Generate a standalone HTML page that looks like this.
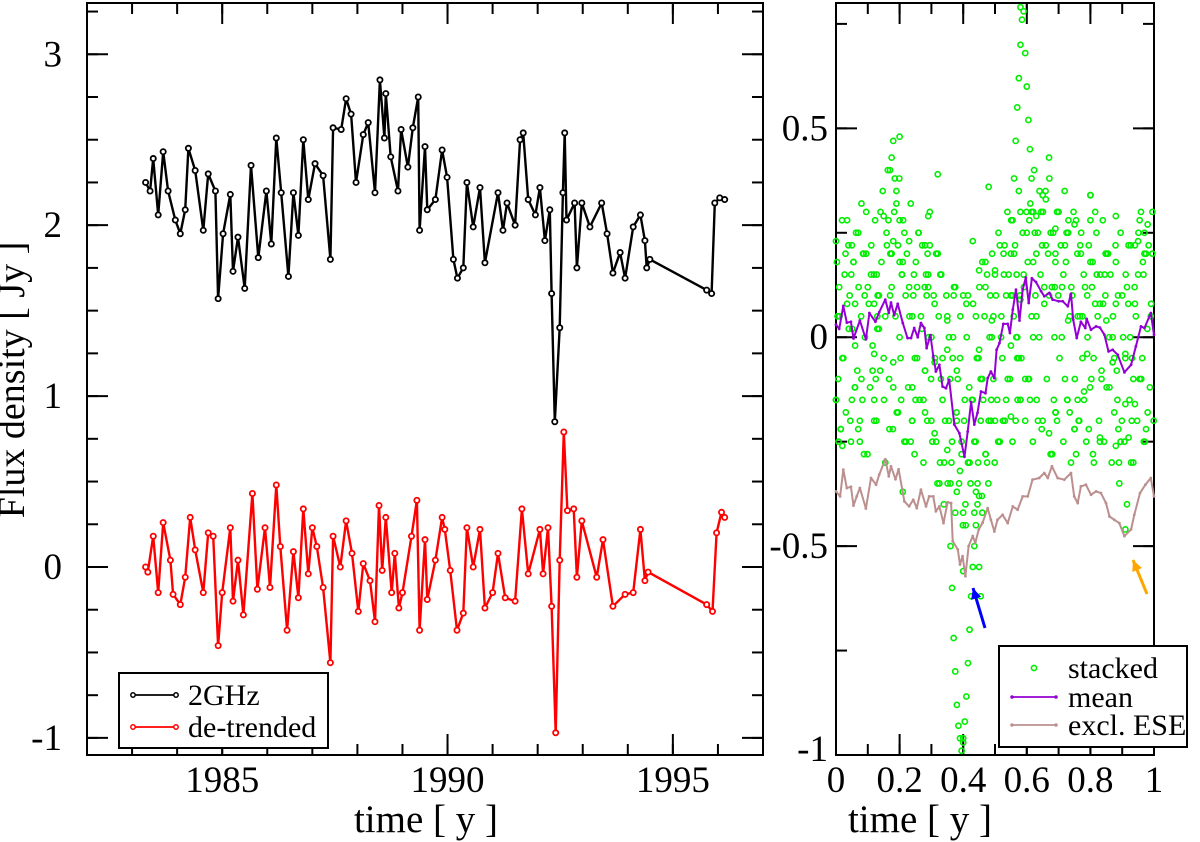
<!DOCTYPE html>
<html><head><meta charset="utf-8"><style>
html,body{margin:0;padding:0;background:#fff}
svg{display:block;font-family:"Liberation Serif","Times New Roman",serif}
</style></head><body>
<svg id="c" width="1200" height="842" viewBox="0 0 1200 842" xmlns="http://www.w3.org/2000/svg"></svg>
<script>
// ---- left panel data ----
const t2ghz=[1983.3,1983.4,1983.47,1983.58,1983.69,1983.8,1983.96,1984.07,1984.18,1984.25,1984.4,1984.58,1984.69,1984.85,1984.91,1985.02,1985.18,1985.24,1985.35,1985.5,1985.64,1985.8,1985.98,1986.09,1986.2,1986.31,1986.47,1986.58,1986.69,1986.8,1986.91,1987.06,1987.24,1987.4,1987.46,1987.64,1987.75,1987.86,1987.97,1988.13,1988.24,1988.39,1988.5,1988.6,1988.63,1988.74,1988.9,1988.97,1989.12,1989.23,1989.35,1989.38,1989.5,1989.55,1989.73,1989.88,1989.99,1990.13,1990.22,1990.35,1990.43,1990.57,1990.72,1990.83,1991.12,1991.23,1991.32,1991.5,1991.61,1991.68,1991.79,1991.95,1992.05,1992.16,1992.27,1992.31,1992.38,1992.49,1992.56,1992.6,1992.64,1992.82,1992.87,1992.98,1993.16,1993.42,1993.54,1993.67,1993.83,1993.94,1994.12,1994.28,1994.38,1994.42,1994.49,1995.75,1995.86,1995.93,1996.04,1996.15];
const v2ghz=[2.25,2.2,2.39,2.06,2.43,2.2,2.03,1.95,2.09,2.45,2.32,1.97,2.3,2.2,1.57,1.95,2.18,1.73,1.93,1.63,2.35,1.81,2.2,1.89,2.51,2.19,1.7,2.19,1.94,2.5,2.15,2.36,2.29,1.8,2.57,2.56,2.74,2.65,2.25,2.53,2.6,2.19,2.85,2.51,2.77,2.4,2.2,2.56,2.34,2.57,2.75,1.97,2.46,2.09,2.15,2.44,2.28,1.8,1.69,1.75,2.25,1.99,2.22,1.78,2.19,1.97,2.13,2.0,2.5,2.54,2.15,2.06,2.22,1.91,2.09,1.6,0.85,1.4,2.19,2.54,2.03,2.13,1.75,2.13,1.99,2.13,1.95,1.72,1.84,1.69,1.99,2.06,1.91,1.75,1.8,1.62,1.6,2.13,2.16,2.15];
const tDet=[1983.3,1983.35,1983.47,1983.58,1983.69,1983.85,1983.91,1984.07,1984.18,1984.29,1984.4,1984.58,1984.69,1984.8,1984.91,1985.0,1985.18,1985.24,1985.35,1985.47,1985.67,1985.78,1985.95,1986.06,1986.2,1986.29,1986.44,1986.58,1986.69,1986.8,1986.91,1987.0,1987.1,1987.24,1987.4,1987.46,1987.62,1987.75,1987.88,1988.02,1988.13,1988.28,1988.39,1988.48,1988.55,1988.63,1988.76,1988.83,1988.92,1989.0,1989.2,1989.32,1989.38,1989.5,1989.55,1989.73,1989.88,1989.94,1990.06,1990.21,1990.35,1990.43,1990.57,1990.72,1990.83,1991.0,1991.12,1991.28,1991.5,1991.65,1991.79,1992.05,1992.12,1992.23,1992.31,1992.4,1992.49,1992.58,1992.66,1992.8,1992.87,1992.98,1993.31,1993.45,1993.67,1993.94,1994.12,1994.28,1994.38,1994.45,1995.75,1995.88,1995.97,1996.08,1996.15];
const vDet=[0.0,-0.03,0.18,-0.15,0.26,0.04,-0.16,-0.22,-0.06,0.29,0.1,-0.15,0.2,0.18,-0.46,-0.15,0.23,-0.2,0.04,-0.28,0.43,-0.13,0.23,-0.12,0.48,0.12,-0.37,0.09,-0.18,0.34,-0.04,0.23,0.12,-0.12,-0.56,0.18,0.0,0.27,0.08,-0.26,0.02,-0.08,-0.32,0.36,-0.02,0.29,-0.15,0.08,-0.24,-0.15,0.18,0.39,-0.37,0.16,-0.19,0.04,0.29,0.22,-0.02,-0.37,-0.27,0.23,0.0,0.22,-0.24,-0.15,0.08,-0.18,-0.2,0.34,-0.04,0.22,-0.04,0.23,-0.23,-0.97,0.04,0.79,0.33,0.34,-0.06,0.27,-0.06,0.16,-0.23,-0.16,-0.15,0.22,-0.08,-0.03,-0.22,-0.26,0.2,0.32,0.29];
const leftXTicks=[1985,1990,1995];
const leftYTicks=[-1,0,1,2,3];
// ---- right panel data ----
const phMean=[0,0.01,0.023,0.034,0.047,0.055,0.075,0.094,0.105,0.124,0.136,0.155,0.166,0.173,0.183,0.194,0.21,0.225,0.236,0.246,0.257,0.267,0.278,0.285,0.297,0.306,0.314,0.325,0.335,0.346,0.356,0.372,0.388,0.404,0.414,0.425,0.435,0.445,0.456,0.47,0.477,0.487,0.498,0.505,0.514,0.526,0.54,0.547,0.556,0.566,0.577,0.587,0.597,0.606,0.616,0.629,0.645,0.655,0.671,0.681,0.7,0.713,0.729,0.739,0.746,0.757,0.77,0.784,0.788,0.802,0.818,0.83,0.844,0.857,0.87,0.886,0.907,0.928,0.943,0.959,0.97,0.99,1.0];
const vMean=[0.03,0.02,0.075,0.035,0.037,-0.003,0.04,-0.005,0.058,0.037,0.06,0.09,0.058,0.083,0.053,0.08,0.034,-0.002,-0.002,0.022,0,0.034,0.022,-0.026,0.005,-0.046,-0.082,-0.066,-0.118,-0.122,-0.102,-0.209,-0.23,-0.286,-0.226,-0.155,-0.209,-0.181,-0.13,-0.134,-0.098,-0.082,-0.098,-0.03,-0.014,0.032,0.032,0.01,0.066,0.114,0.04,0.114,0.143,0.082,0.141,0.132,0.11,0.098,0.106,0.09,0.086,0.086,0.074,0.104,0.042,-0.002,0.037,0.022,0.044,0.018,0.026,0.023,0.006,-0.034,-0.03,-0.042,-0.084,-0.066,-0.022,0.026,0.022,0.058,0.006];
const phEse=[0,0.013,0.023,0.034,0.047,0.055,0.065,0.075,0.094,0.11,0.126,0.136,0.155,0.166,0.173,0.187,0.197,0.215,0.23,0.243,0.254,0.267,0.283,0.293,0.306,0.314,0.325,0.338,0.351,0.362,0.367,0.383,0.39,0.398,0.407,0.417,0.43,0.438,0.449,0.461,0.477,0.487,0.498,0.508,0.524,0.54,0.556,0.571,0.587,0.603,0.618,0.639,0.655,0.666,0.679,0.697,0.718,0.739,0.749,0.76,0.77,0.786,0.802,0.818,0.833,0.849,0.86,0.875,0.891,0.907,0.928,0.938,0.956,0.973,0.99,1.0];
const vEse=[-0.369,-0.381,-0.317,-0.361,-0.358,-0.403,-0.381,-0.361,-0.41,-0.337,-0.353,-0.329,-0.292,-0.333,-0.309,-0.34,-0.316,-0.393,-0.405,-0.389,-0.409,-0.365,-0.405,-0.381,-0.381,-0.417,-0.405,-0.445,-0.395,-0.397,-0.488,-0.508,-0.544,-0.524,-0.572,-0.5,-0.476,-0.492,-0.46,-0.444,-0.409,-0.437,-0.465,-0.437,-0.425,-0.445,-0.405,-0.413,-0.381,-0.381,-0.341,-0.337,-0.325,-0.337,-0.309,-0.337,-0.341,-0.325,-0.381,-0.397,-0.357,-0.353,-0.377,-0.369,-0.373,-0.397,-0.429,-0.437,-0.445,-0.476,-0.46,-0.425,-0.373,-0.353,-0.337,-0.381];
const phStack=[0.01,0.02,0.03,0.04,0.05,0.06,0.07,0.08,0.09,0.11,0.12,0.13,0.14,0.15,0.16,0.17,0.18,0.19,0.2,0.21,0.22,0.23,0.24,0.25,0.26,0.27,0.28,0.29,0.3,0.31,0.32,0.33,0.34,0.35,0.36,0.37,0.38,0.39,0.4,0.41,0.42,0.43,0.44,0.45,0.46,0.47,0.48,0.49,0.5,0.51,0.52,0.53,0.54,0.55,0.56,0.57,0.58,0.59,0.6,0.61,0.62,0.63,0.64,0.65,0.66,0.67,0.68,0.69,0.7,0.71,0.72,0.73,0.74,0.75,0.76,0.77,0.78,0.79,0.8,0.81,0.82,0.83,0.84,0.85,0.86,0.87,0.88,0.89,0.9,0.91,0.92,0.93,0.94,0.95,0.96,0.97,0.98,0.99,
0.015,0.035,0.055,0.075,0.095,0.115,0.135,0.155,0.175,0.195,0.215,0.235,0.255,0.275,0.295,0.315,0.335,0.355,0.375,0.395,0.415,0.435,0.455,0.475,0.495,0.515,0.535,0.555,0.575,0.595,0.615,0.635,0.655,0.675,0.695,0.715,0.735,0.755,0.775,0.795,0.815,0.835,0.855,0.875,0.895,0.915,0.935,0.955,0.975,0.995,
0.005,0.045,0.085,0.125,0.165,0.205,0.245,0.285,0.325,0.365,0.405,0.445,0.485,0.525,0.565,0.605,0.645,0.685,0.725,0.765,0.805,0.845,0.885,0.925,0.965,
0.008,0.048,0.088,0.128,0.168,0.208,0.248,0.288,0.328,0.368,0.408,0.448,0.488,0.528,0.568,0.608,0.648,0.688,0.728,0.768,0.808,0.848,0.888,0.928,0.968,
0.36,0.365,0.37,0.375,0.38,0.385,0.39,0.395,0.4,0.405,0.41,0.415,0.42,0.425,0.43,0.435,0.44,0.445,0.45,0.455,0.46,
0.55,0.555,0.56,0.565,0.57,0.575,0.58,0.585,0.59,0.595,0.6,0.605,0.61,0.615,0.62,0.625,0.63,0.17,0.175,0.18,0.185,0.19,0.2];
const vStack=[0.12,-0.05,0.2,0.02,-0.15,0.08,0.25,-0.1,0.1,0.15,-0.2,0.05,0.3,-0.05,0.22,0.1,-0.12,0.35,0.0,0.18,-0.25,0.12,0.05,-0.15,0.25,0.02,-0.08,0.15,-0.2,0.08,0.2,-0.1,-0.3,0.05,-0.35,0.1,-0.2,-0.05,-0.42,0.08,-0.3,-0.15,0.05,-0.38,-0.1,0.12,-0.2,0.0,0.15,-0.25,0.05,0.22,-0.1,0.1,0.2,-0.05,0.3,0.15,0.25,-0.15,0.18,0.05,0.35,-0.2,0.22,0.1,-0.28,0.18,0.3,0.0,-0.1,0.25,0.12,-0.22,0.05,0.2,-0.15,0.1,0.28,-0.05,0.15,-0.25,0.08,0.2,-0.12,0.0,0.18,-0.3,0.1,-0.05,0.22,-0.2,0.08,0.15,-0.1,0.25,-0.18,0.05,
-0.22,0.28,0.18,-0.25,0.2,-0.08,0.1,-0.3,0.2,-0.18,0.25,-0.25,0.12,-0.15,0.22,-0.25,-0.05,-0.2,0.12,-0.28,0.1,-0.25,-0.1,-0.3,0.05,0.22,-0.15,0.1,-0.05,-0.1,0.3,-0.2,0.12,0.25,-0.2,0.15,-0.18,0.28,0.05,-0.22,0.3,-0.1,0.2,-0.05,-0.25,0.12,-0.1,0.28,-0.22,0.2,
0.05,-0.2,0.2,-0.1,0.28,-0.15,0.15,0.1,-0.35,-0.25,-0.15,-0.35,0.1,-0.2,-0.2,-0.1,0.3,-0.15,0.25,-0.2,0.12,0.15,-0.15,0.0,0.18,
-0.25,0.15,-0.28,0.15,-0.22,0.15,-0.05,0.2,0.15,0.0,-0.45,-0.05,-0.15,0.15,0.15,0.28,0.22,0.12,-0.15,0.22,-0.28,0.2,-0.22,-0.3,-0.25,
-0.5,-0.6,-0.72,-0.8,-0.88,-0.93,-0.96,-0.99,-0.96,-0.92,-0.86,-0.78,-0.7,-0.62,-0.55,-0.5,-0.45,-0.4,-0.55,-0.62,-0.42,
0.2,0.28,0.38,0.47,0.55,0.62,0.7,0.76,0.78,0.68,0.6,0.52,0.45,0.38,0.3,0.25,0.2,0.4,0.43,0.47,0.38,0.32,0.28];
const phStack2=[0.003,0.007,0.011,0.015,0.019,0.023,0.027,0.031,0.035,0.039,0.043,0.047,0.051,0.055,0.059,0.063,0.067,0.071,0.075,0.079,0.083,0.087,0.091,0.095,0.099,
0.103,0.107,0.111,0.115,0.119,0.123,0.127,0.131,0.135,0.139,0.143,0.147,0.151,0.155,0.159,0.163,0.167,0.171,0.175,0.179,0.183,0.187,0.191,0.195,0.199,
0.203,0.207,0.211,0.215,0.219,0.223,0.227,0.231,0.235,0.239,0.243,0.247,0.251,0.255,0.259,0.263,0.267,0.271,0.275,0.279,0.283,0.287,0.291,0.295,0.299,
0.303,0.307,0.311,0.315,0.319,0.323,0.327,0.331,0.335,0.339,0.343,0.347,0.351,0.355,0.359,0.363,0.367,0.371,0.375,0.379,0.383,0.387,0.391,0.395,0.399,
0.403,0.407,0.411,0.415,0.419,0.423,0.427,0.431,0.435,0.439,0.443,0.447,0.451,0.455,0.459,0.463,0.467,0.471,0.475,0.479,0.483,0.487,0.491,0.495,0.499,
0.503,0.507,0.511,0.515,0.519,0.523,0.527,0.531,0.535,0.539,0.543,0.547,0.551,0.555,0.559,0.563,0.567,0.571,0.575,0.579,0.583,0.587,0.591,0.595,0.599,
0.603,0.607,0.611,0.615,0.619,0.623,0.627,0.631,0.635,0.639,0.643,0.647,0.651,0.655,0.659,0.663,0.667,0.671,0.675,0.679,0.683,0.687,0.691,0.695,0.699,
0.703,0.707,0.711,0.715,0.719,0.723,0.727,0.731,0.735,0.739,0.743,0.747,0.751,0.755,0.759,0.763,0.767,0.771,0.775,0.779,0.783,0.787,0.791,0.795,0.799,
0.803,0.807,0.811,0.815,0.819,0.823,0.827,0.831,0.835,0.839,0.843,0.847,0.851,0.855,0.859,0.863,0.867,0.871,0.875,0.879,0.883,0.887,0.891,0.895,0.899,
0.903,0.907,0.911,0.915,0.919,0.923,0.927,0.931,0.935,0.939,0.943,0.947,0.951,0.955,0.959,0.963,0.967,0.971,0.975,0.979,0.983,0.987,0.991,0.995,0.999];
const vStack2=[0.18,-0.1,0.05,-0.22,0.28,-0.05,0.15,-0.18,0.08,0.22,0.1,-0.25,0.02,0.18,-0.12,0.25,-0.08,0.12,-0.2,0.05,-0.15,0.2,0.0,0.3,-0.28,
0.08,-0.12,0.22,-0.02,0.15,0.28,-0.2,0.1,0.02,-0.08,0.18,0.35,-0.15,0.05,0.25,0.4,-0.1,0.2,0.12,-0.22,0.3,0.05,-0.18,0.22,0.38,
-0.05,0.15,0.28,-0.25,0.1,0.2,-0.12,0.05,0.32,-0.2,0.1,-0.28,0.18,-0.05,0.25,-0.15,0.05,0.22,-0.3,0.12,0.15,-0.2,0.0,0.3,-0.1,
-0.25,0.1,-0.05,0.2,-0.35,0.05,-0.3,0.15,-0.15,-0.4,-0.2,0.1,-0.35,0.0,-0.1,-0.3,-0.05,0.12,-0.42,-0.18,-0.1,-0.35,0.05,-0.25,-0.45,
-0.2,-0.4,0.0,-0.3,-0.12,-0.35,-0.15,0.08,-0.42,-0.25,-0.05,-0.3,0.12,-0.2,-0.38,-0.15,0.05,-0.28,0.15,-0.35,0.0,-0.2,0.2,-0.1,-0.3,
0.1,-0.15,0.25,-0.25,0.0,-0.05,0.2,-0.2,0.1,0.3,0.15,-0.1,0.28,-0.25,0.05,0.22,0.0,-0.15,0.35,0.1,-0.05,0.25,0.12,-0.2,0.3,
0.18,-0.1,0.32,0.05,-0.25,0.4,0.1,-0.15,0.25,0.0,0.15,-0.22,0.3,0.08,0.35,-0.1,0.2,0.38,-0.28,0.12,0.25,0.0,-0.18,0.3,0.1,
-0.05,0.22,0.12,-0.25,0.35,0.18,-0.15,0.28,0.05,-0.3,0.1,0.3,-0.1,-0.28,0.2,-0.2,0.05,0.25,-0.05,0.15,0.12,-0.25,0.0,0.22,-0.12,
-0.1,0.18,-0.3,0.08,0.25,0.05,-0.2,0.15,-0.08,0.28,-0.25,0.1,-0.12,0.2,0.0,0.15,-0.3,0.05,-0.18,0.22,-0.08,0.1,-0.35,0.25,-0.2,
0.0,-0.25,0.15,-0.4,0.08,-0.15,0.22,-0.05,-0.3,0.12,0.05,-0.2,0.25,-0.1,0.3,-0.05,0.15,-0.25,0.2,0.02,0.22,-0.12,0.08,0.3,-0.2];
const rightXTicks=[0,0.2,0.4,0.6,0.8,1];
const rightYTicks=[-1,-0.5,0,0.5];

const NS="http://www.w3.org/2000/svg";
const svg=document.getElementById('c');
function mk(tag,attrs,parent){const e=document.createElementNS(NS,tag);for(const k in attrs)e.setAttribute(k,attrs[k]);(parent||svg).appendChild(e);return e;}

const L={x0:87,x1:763,y0:3,y1:755,tmin:1982,tmax:1997,vmin:-1.1,vmax:3.3,lab:25};
const R={x0:836,x1:1154,y0:3,y1:755,tmin:0,tmax:1,vmin:-1,vmax:0.8,lab:8};
function sx(A,t){return A.x0+(t-A.tmin)/(A.tmax-A.tmin)*(A.x1-A.x0);}
function sy(A,v){return A.y1-(v-A.vmin)/(A.vmax-A.vmin)*(A.y1-A.y0);}

function frame(A,name,xt,xmin,yt,ymin){
  const g=mk('g',{});
  
  
  const r=mk('rect',{x:A.x0,y:A.y0,width:A.x1-A.x0,height:A.y1-A.y0,fill:'none',stroke:'#000','stroke-width':2},g);
  
  
  for(let t=A.tmin;t<=A.tmax+1e-9;t+=xmin){const x=sx(A,t);
    mk('line',{x1:x,x2:x,y1:A.y1,y2:A.y1-11,stroke:'#000','stroke-width':2},g);
    mk('line',{x1:x,x2:x,y1:A.y0,y2:A.y0+11,stroke:'#000','stroke-width':2},g);}
  for(const t of xt){const x=sx(A,t);
    mk('line',{x1:x,x2:x,y1:A.y1,y2:A.y1-21,stroke:'#000','stroke-width':2},g);
    mk('line',{x1:x,x2:x,y1:A.y0,y2:A.y0+21,stroke:'#000','stroke-width':2},g);
    const tx=mk('text',{x:x,y:792,'font-size':37,'text-anchor':'middle'},g);tx.textContent=String(t);
    
    }
  const vs=Math.ceil(A.vmin/ymin)*ymin;
  for(let v=vs;v<=A.vmax+1e-9;v+=ymin){const y=sy(A,v);
    mk('line',{x1:A.x0,x2:A.x0+11,y1:y,y2:y,stroke:'#000','stroke-width':2},g);
    mk('line',{x1:A.x1,x2:A.x1-11,y1:y,y2:y,stroke:'#000','stroke-width':2},g);}
  for(const v of yt){const y=sy(A,v);
    mk('line',{x1:A.x0,x2:A.x0+21,y1:y,y2:y,stroke:'#000','stroke-width':2},g);
    mk('line',{x1:A.x1,x2:A.x1-21,y1:y,y2:y,stroke:'#000','stroke-width':2},g);
    const tx=mk('text',{x:A.x0-A.lab,y:Math.min(y+12,A.y1+6),'font-size':37,'text-anchor':'end'},g);tx.textContent=String(v);
    
    }
}
frame(L,'left-plot',leftXTicks,1,leftYTicks,0.25);
frame(R,'right-plot',rightXTicks,0.1,rightYTicks,0.25);

function series(A,ts,vs,color,name,marker,r,lw,mw){
  const g=mk('g',{});
  
  
  const pts=ts.map((t,i)=>sx(A,t).toFixed(1)+','+sy(A,vs[i]).toFixed(1)).join(' ');
  mk('polyline',{points:pts,fill:'none',stroke:color,'stroke-width':lw,'stroke-linejoin':'round'},g);
  ts.forEach((t,i)=>{const c=mk('circle',{cx:sx(A,t),cy:sy(A,vs[i]),r:r,fill:marker,stroke:color,'stroke-width':mw},g);
    
    });
}
series(L,t2ghz,v2ghz,'#000','series-2ghz','#fff',2.6,2.4,1.8);
series(L,tDet,vDet,'#f00','series-detrended','#fff',2.6,2.4,1.8);

const sg=mk('g',{});


function dot(p,v){const c=mk('circle',{cx:sx(R,p),cy:sy(R,v),r:2.6,fill:'none',stroke:'#00ee00','stroke-width':1.6},sg);
  
  }
phStack.forEach((p,i)=>dot(p,vStack[i]));
phStack2.forEach((p,i)=>dot(p,vStack2[i]));
tDet.forEach((t,i)=>dot(t-Math.floor(t),vDet[i]));

series(R,phMean,vMean,'#9400d3','series-mean','#9400d3',0.9,2,1);
series(R,phEse,vEse,'#bc8f8f','series-excl-ese','#bc8f8f',0.9,2,1);

function arrow(x1,y1,x2,y2,color,name){const g=mk('g',{});
  
  
  mk('line',{x1:x1,y1:y1,x2:x2,y2:y2,stroke:color,'stroke-width':3},g);
  const a=Math.atan2(y2-y1,x2-x1),L2=12,w=0.45;
  const p=[[x2,y2],[x2-L2*Math.cos(a-w),y2-L2*Math.sin(a-w)],[x2-L2*Math.cos(a+w),y2-L2*Math.sin(a+w)]];
  mk('polygon',{points:p.map(q=>q.join(',')).join(' '),fill:color},g);}
arrow(985,628,973,588,'#0000ff','ese-arrow-blue');
arrow(1147,594,1133,560,'#ffa500','ese-arrow-orange');

function legend(x,y,w,h,items,name){const g=mk('g',{});
  
  
  mk('rect',{x:x,y:y,width:w,height:h,fill:'#fff',stroke:'#000','stroke-width':2},g);
  items.forEach(it=>{const gi=mk('g',{},g);
    
    
    if(it.line){mk('line',{x1:it.lx1,x2:it.lx2,y1:it.y,y2:it.y,stroke:it.c,'stroke-width':1.8},gi);
      mk('circle',{cx:it.lx1,cy:it.y,r:it.r,fill:it.f,stroke:it.c,'stroke-width':1.5},gi);
      mk('circle',{cx:it.lx2,cy:it.y,r:it.r,fill:it.f,stroke:it.c,'stroke-width':1.5},gi);}
    else mk('circle',{cx:(it.lx1+it.lx2)/2,cy:it.y,r:2.6,fill:'none',stroke:it.c,'stroke-width':1.6},gi);
    const tx=mk('text',{x:it.tx,y:it.y+10,'font-size':30},gi);tx.textContent=it.label;});
}
legend(119,673,209,75,[
 {line:1,lx1:133,lx2:176,y:695,c:'#000',f:'#fff',r:2.2,tx:188,label:'2GHz'},
 {line:1,lx1:133,lx2:176,y:727,c:'#f00',f:'#fff',r:2.2,tx:188,label:'de-trended'}],'legend-left');
legend(999,646,188,101,[
 {line:0,lx1:1012,lx2:1056,y:668,c:'#00ee00',tx:1068,label:'stacked'},
 {line:1,lx1:1012,lx2:1056,y:697,c:'#9400d3',f:'#9400d3',r:1,tx:1068,label:'mean'},
 {line:1,lx1:1012,lx2:1056,y:725,c:'#bc8f8f',f:'#bc8f8f',r:1,tx:1068,label:'excl. ESE'}],'legend-right');

let t=mk('text',{x:426,y:832,'font-size':39,'text-anchor':'middle'});t.textContent='time [ y ]';


t=mk('text',{x:920,y:832,'font-size':39,'text-anchor':'middle'});t.textContent='time [ y ]';


t=mk('text',{x:0,y:0,'font-size':38,'text-anchor':'middle',transform:'translate(24,380) rotate(-90)'});t.textContent='Flux density [ Jy ]';


</script>
</body></html>
